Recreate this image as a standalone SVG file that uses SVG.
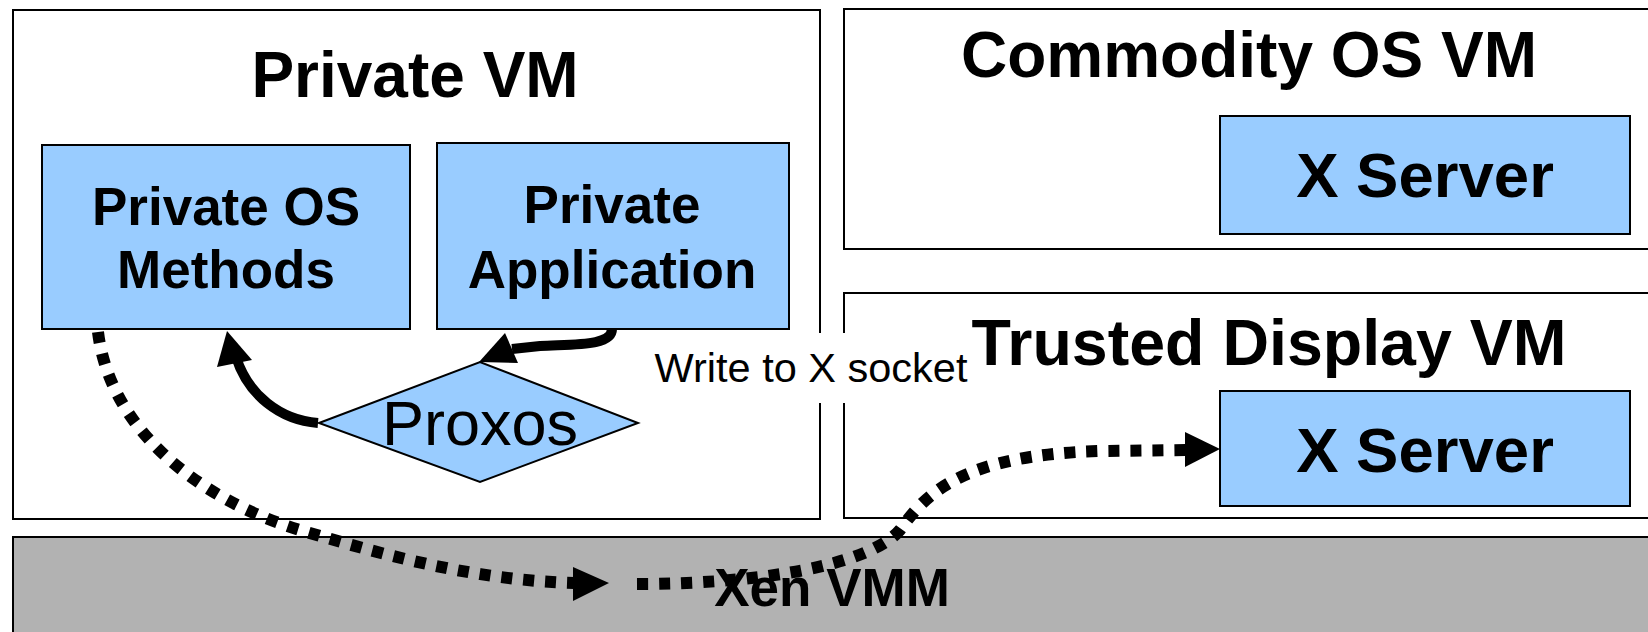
<svg xmlns="http://www.w3.org/2000/svg" width="1648" height="632" viewBox="0 0 1648 632">
<style>
.vm{fill:#fff;stroke:#000;stroke-width:2}
.box{fill:#99ccff;stroke:#000;stroke-width:2}
.t{font-family:"Liberation Sans",Arial,sans-serif;font-weight:bold;fill:#000;text-anchor:middle}
.r{font-family:"Liberation Sans",Arial,sans-serif;fill:#000;text-anchor:middle}
.solid{fill:none;stroke:#000;stroke-width:10}
.dot{fill:none;stroke:#000;stroke-width:12;stroke-dasharray:11 11}
</style>
<rect width="1648" height="632" fill="#fff"/>
<g id="xen-vmm">
<rect x="13" y="537" width="1640" height="100" fill="#b2b2b2" stroke="#000" stroke-width="2"/>
</g>
<g id="private-vm">
<rect class="vm" x="13" y="10" width="807" height="509"/>
<text class="t" x="415" y="97" font-size="64">Private VM</text>
</g>
<g id="commodity-os-vm">
<rect class="vm" x="844" y="9" width="820" height="240"/>
<text class="t" x="1249" y="77" font-size="64">Commodity OS VM</text>
</g>
<g id="trusted-display-vm">
<rect class="vm" x="844" y="293" width="820" height="225"/>
<text class="t" x="1269" y="365" font-size="64.5">Trusted Display VM</text>
</g>
<g id="private-os-methods">
<rect class="box" x="42" y="145" width="368" height="184"/>
<text class="t" x="226" y="225" font-size="53">Private OS</text>
<text class="t" x="226" y="288" font-size="53">Methods</text>
</g>
<g id="private-application">
<rect class="box" x="437" y="143" width="352" height="186"/>
<text class="t" x="612" y="223" font-size="53">Private</text>
<text class="t" x="612" y="288" font-size="53">Application</text>
</g>
<g id="x-server-commodity">
<rect class="box" x="1220" y="116" width="410" height="118"/>
<text class="t" x="1425" y="197" font-size="63.5">X Server</text>
</g>
<g id="x-server-trusted">
<rect class="box" x="1220" y="391" width="410" height="115"/>
<text class="t" x="1425" y="472" font-size="63.5">X Server</text>
</g>
<g id="write-label">
<rect x="645" y="333" width="332" height="70" fill="#fff"/>
<text class="r" x="811" y="382" font-size="41.5">Write to X socket</text>
</g>
<g id="proxos">
<polygon class="box" points="319,423 480,362 638,423 480,482"/>
<text class="r" x="480" y="445" font-size="63">Proxos</text>
</g>
<g id="connectors">
<path class="solid" d="M612,329 C612,346 575,344 540,346 L512,349"/>
<polygon points="479,362 505,333 518,363" fill="#000"/>
<path class="solid" d="M318,423 C280,420 248,395 236,357"/>
<polygon points="227,331 217,367 252,360" fill="#000"/>
<path class="dot" d="M98,332 C110,430 200,500 300,530 C400,560 480,580 574,583"/>
<polygon points="609,583 573,567 573,601" fill="#000"/>
<path class="dot" d="M637,584 C760,584 870,565 900,530 C925,495 960,455 1100,451 L1186,450"/>
<polygon points="1220,449 1185,432 1185,467" fill="#000"/>
</g>
<g id="xen-label">
<text class="t" x="832" y="606" font-size="53">Xen VMM</text>
</g>
</svg>
